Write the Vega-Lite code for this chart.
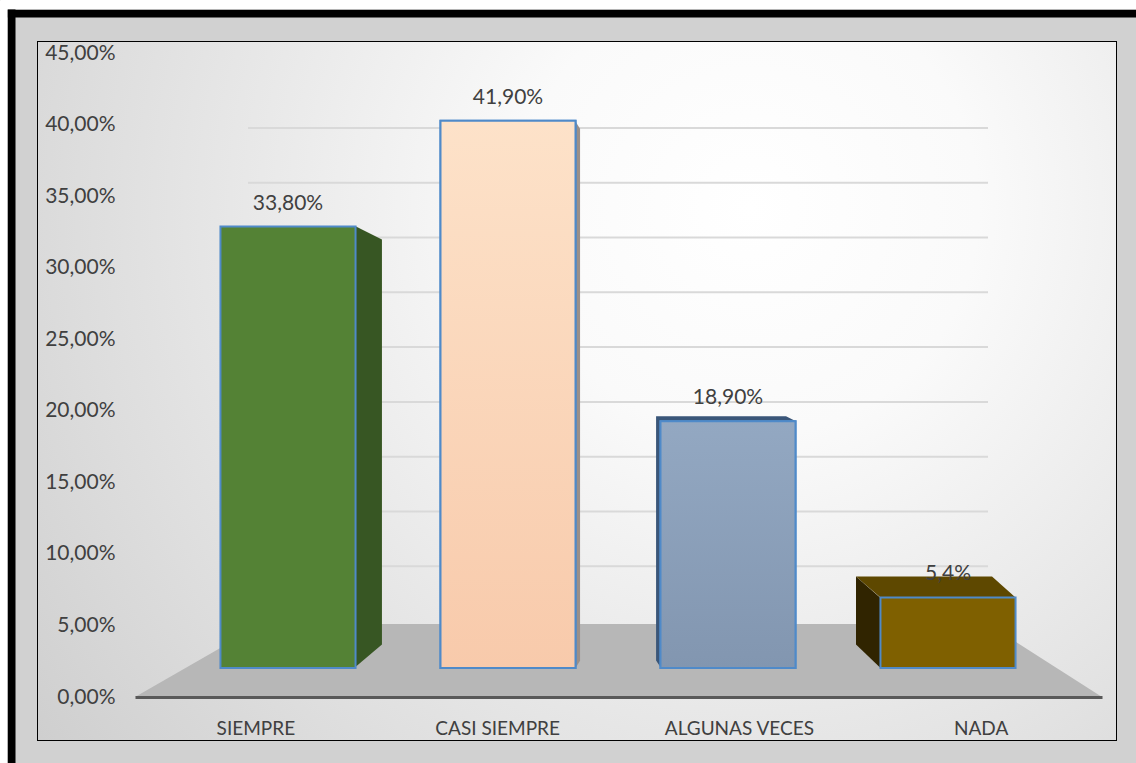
{
  "$schema": "https://vega.github.io/schema/vega-lite/v6.json",
  "width": 1078,
  "height": 698,
  "autosize": {"type": "none"},
  "padding": {"left": 38, "top": 42, "right": 20, "bottom": 23},
  "background": "#d1d1d1",
  "config": {
    "view": {"stroke": "#000000", "strokeWidth": 2},
    "font": "Lato",
    "axis": {"labelFont": "Lato", "labelColor": "#404040", "title": null}
  },
  "datasets": {
    "resp": [
      {"cat": "SIEMPRE", "v": 33.8, "label": "33,80%"},
      {"cat": "CASI SIEMPRE", "v": 41.9, "label": "41,90%"},
      {"cat": "ALGUNAS VECES", "v": 18.9, "label": "18,90%"},
      {"cat": "NADA", "v": 5.4, "label": "5,4%"}
    ],
    "ticks": [
      {"t": 0}, {"t": 5}, {"t": 10}, {"t": 15}, {"t": 20},
      {"t": 25}, {"t": 30}, {"t": 35}, {"t": 40}, {"t": 45}
    ]
  },
  "resolve": {
    "scale": {"x": "independent", "y": "independent", "color": "independent"},
    "axis": {"x": "independent", "y": "independent"}
  },
  "layer": [
    {
      "data": {"name": "resp"},
      "mark": {
        "type": "rect",
        "fill": {
          "gradient": "radial",
          "x1": 0.66, "y1": 0.33, "r1": 0,
          "x2": 0.66, "y2": 0.33, "r2": 0.85,
          "stops": [
            {"offset": 0, "color": "#ffffff"},
            {"offset": 0.25, "color": "#fafafa"},
            {"offset": 1, "color": "#cdcdcd"}
          ]
        },
        "strokeWidth": 0
      },
      "encoding": {
        "x": {"value": 0},
        "x2": {"value": "width"},
        "y": {"value": 0},
        "y2": {"value": "height"}
      }
    },
    {
      "data": {"name": "ticks"},
      "transform": [{"filter": "datum.t > 0"}],
      "mark": {"type": "rule", "color": "#d9d9d9", "strokeWidth": 2},
      "encoding": {
        "y": {"field": "t", "type": "quantitative", "scale": {"domain": [0, 45], "range": [579, 86], "zero": false, "nice": false}, "axis": null},
        "x": {"datum": 0, "type": "quantitative", "scale": {"domain": [0, 1], "range": [210, 950], "nice": false, "zero": false}, "axis": null},
        "x2": {"datum": 1}
      }
    },
    {
      "data": {"values": [{"f": 1}]},
      "mark": {
        "type": "point",
        "filled": true,
        "shape": "M -1 0.0755 L 1 0.0755 L 0.764 -0.0755 L -0.737 -0.0755 Z",
        "size": 935089,
        "color": "#b7b7b7",
        "opacity": 1,
        "strokeWidth": 0
      },
      "encoding": {
        "x": {"datum": 0.5, "type": "quantitative", "scale": {"domain": [0, 1], "range": [97, 1064], "nice": false, "zero": false}, "axis": null},
        "y": {"datum": 0.5, "type": "quantitative", "scale": {"domain": [0, 1], "range": [655, 582], "nice": false, "zero": false}, "axis": null}
      }
    },
    {
      "data": {"name": "resp"},
      "transform": [{"filter": "datum.cat == 'SIEMPRE'"}],
      "mark": {"type": "point", "filled": true, "opacity": 1, "strokeWidth": 0, "color": "#375623",
        "shape": "M 0.309 0 L 0.427 0.059 L 0.427 1.9 L 0.309 2 Z", "size": 193600},
      "encoding": {
        "x": {"field": "cat", "type": "nominal", "sort": null, "scale": {"type": "band", "domain": ["SIEMPRE", "CASI SIEMPRE", "ALGUNAS VECES", "NADA"], "range": [140, 1020], "paddingInner": 0.386, "paddingOuter": 0.193}, "axis": null},
        "y": {"field": "v", "type": "quantitative", "scale": {"domain": [0, 45], "range": [626, 38.3], "nice": false}, "axis": null}
      }
    },
    {
      "data": {"name": "resp"},
      "transform": [{"filter": "datum.cat == 'CASI SIEMPRE'"}],
      "mark": {"type": "point", "filled": true, "opacity": 1, "strokeWidth": 0, "color": "#9a8f88",
        "shape": "M 0.2445 0 L 0.263 0.029 L 0.263 1.971 L 0.2445 2 Z", "size": 300304},
      "encoding": {
        "x": {"field": "cat", "type": "nominal", "sort": null, "scale": {"type": "band", "domain": ["SIEMPRE", "CASI SIEMPRE", "ALGUNAS VECES", "NADA"], "range": [140, 1020], "paddingInner": 0.386, "paddingOuter": 0.193}, "axis": null},
        "y": {"field": "v", "type": "quantitative", "scale": {"domain": [0, 45], "range": [626, 38.3], "nice": false}, "axis": null}
      }
    },
    {
      "data": {"name": "resp"},
      "transform": [{"filter": "datum.cat == 'ALGUNAS VECES'"}],
      "mark": {"type": "point", "filled": true, "opacity": 1, "strokeWidth": 0, "color": "#3a5679",
        "shape": "M -0.58 -0.04 L 0.468 -0.04 L 0.548 0 L -0.54 0 L -0.54 1.99 L -0.58 1.93 Z", "size": 61504},
      "encoding": {
        "x": {"field": "cat", "type": "nominal", "sort": null, "scale": {"type": "band", "domain": ["SIEMPRE", "CASI SIEMPRE", "ALGUNAS VECES", "NADA"], "range": [140, 1020], "paddingInner": 0.386, "paddingOuter": 0.193}, "axis": null},
        "y": {"field": "v", "type": "quantitative", "scale": {"domain": [0, 45], "range": [626, 38.3], "nice": false}, "axis": null}
      }
    },
    {
      "data": {"name": "resp"},
      "transform": [{"filter": "datum.cat == 'NADA'"}],
      "mark": {"type": "point", "filled": true, "opacity": 1, "strokeWidth": 0, "color": "#5e4800",
        "shape": "M -1.15 -0.2625 L 0.55 -0.2625 L 0.844 0 L -0.844 0 Z", "size": 25600},
      "encoding": {
        "x": {"field": "cat", "type": "nominal", "sort": null, "scale": {"type": "band", "domain": ["SIEMPRE", "CASI SIEMPRE", "ALGUNAS VECES", "NADA"], "range": [140, 1020], "paddingInner": 0.386, "paddingOuter": 0.193}, "axis": null},
        "y": {"field": "v", "type": "quantitative", "scale": {"domain": [0, 45], "range": [626, 38.3], "nice": false}, "axis": null}
      }
    },
    {
      "data": {"name": "resp"},
      "transform": [{"filter": "datum.cat == 'NADA'"}],
      "mark": {"type": "point", "filled": true, "opacity": 1, "strokeWidth": 0, "color": "#302400",
        "shape": "M -1.15 -0.2625 L -0.85 0 L -0.85 0.875 L -1.15 0.5875 Z", "size": 25600},
      "encoding": {
        "x": {"field": "cat", "type": "nominal", "sort": null, "scale": {"type": "band", "domain": ["SIEMPRE", "CASI SIEMPRE", "ALGUNAS VECES", "NADA"], "range": [140, 1020], "paddingInner": 0.386, "paddingOuter": 0.193}, "axis": null},
        "y": {"field": "v", "type": "quantitative", "scale": {"domain": [0, 45], "range": [626, 38.3], "nice": false}, "axis": null}
      }
    },
    {
      "data": {"name": "resp"},
      "mark": {"type": "bar", "stroke": "#4f8ac9", "strokeWidth": 2, "opacity": 1},
      "encoding": {
        "x": {"field": "cat", "type": "nominal", "sort": null, "scale": {"type": "band", "range": [140, 1020], "paddingInner": 0.386, "paddingOuter": 0.193}, "axis": null},
        "y": {"field": "v", "type": "quantitative", "scale": {"domain": [0, 45], "range": [626, 38.3], "nice": false}, "axis": null},
        "color": {
          "field": "cat", "type": "nominal", "sort": null,
          "scale": {"domain": ["SIEMPRE", "CASI SIEMPRE", "ALGUNAS VECES", "NADA"], "range": ["#548235", "#f9cfb2", "#8a9fba", "#7f6000"]},
          "legend": null
        }
      }
    },
    {
      "data": {"name": "resp"},
      "transform": [{"filter": "datum.cat == 'CASI SIEMPRE'"}],
      "mark": {
        "type": "bar", "stroke": "#4f8ac9", "strokeWidth": 2, "opacity": 1,
        "fill": {"gradient": "linear", "x1": 0, "y1": 0, "x2": 0, "y2": 1,
          "stops": [{"offset": 0, "color": "#fde2c9"}, {"offset": 1, "color": "#f8caab"}]}
      },
      "encoding": {
        "x": {"field": "cat", "type": "nominal", "scale": {"type": "band", "range": [402.5, 537.5], "paddingInner": 0, "paddingOuter": 0}, "axis": null},
        "y": {"field": "v", "type": "quantitative", "scale": {"domain": [0, 45], "range": [626, 38.3], "nice": false}, "axis": null}
      }
    },
    {
      "data": {"name": "resp"},
      "transform": [{"filter": "datum.cat == 'ALGUNAS VECES'"}],
      "mark": {
        "type": "bar", "stroke": "#4f8ac9", "strokeWidth": 2, "opacity": 1,
        "fill": {"gradient": "linear", "x1": 0, "y1": 0, "x2": 0, "y2": 1,
          "stops": [{"offset": 0, "color": "#93a8c2"}, {"offset": 1, "color": "#8296b0"}]}
      },
      "encoding": {
        "x": {"field": "cat", "type": "nominal", "scale": {"type": "band", "range": [622.5, 757.5], "paddingInner": 0, "paddingOuter": 0}, "axis": null},
        "y": {"field": "v", "type": "quantitative", "scale": {"domain": [0, 45], "range": [626, 38.3], "nice": false}, "axis": null}
      }
    },
    {
      "data": {"name": "resp"},
      "mark": {"type": "text", "font": "Lato", "fontSize": 21, "color": "#404040", "baseline": "alphabetic", "dy": -17},
      "encoding": {
        "x": {"field": "cat", "type": "nominal", "sort": null, "scale": {"type": "band", "range": [140, 1020], "paddingInner": 0.386, "paddingOuter": 0.193}, "axis": null},
        "y": {"field": "v", "type": "quantitative", "scale": {"domain": [0, 45], "range": [626, 38.3], "nice": false}, "axis": null},
        "text": {"field": "label"}
      }
    },
    {
      "data": {"name": "resp"},
      "mark": {"type": "point", "opacity": 0},
      "encoding": {
        "x": {
          "field": "cat", "type": "nominal", "sort": null,
          "scale": {"type": "band", "range": [97, 1064], "paddingInner": 0, "paddingOuter": 0},
          "axis": {
            "orient": "bottom", "offset": -43, "zindex": 2, "domainColor": "#595959", "domainWidth": 3,
            "ticks": false, "tickSize": 0, "labelPadding": 22, "labelFontSize": 19,
            "labelAngle": 0, "grid": false, "title": null
          }
        }
      }
    },
    {
      "data": {"name": "ticks"},
      "mark": {"type": "point", "opacity": 0},
      "encoding": {
        "y": {
          "field": "t", "type": "quantitative",
          "scale": {"domain": [0, 45], "range": [655, 11], "nice": false, "zero": false},
          "axis": {
            "orient": "left", "offset": -77, "zindex": 2, "values": [0, 5, 10, 15, 20, 25, 30, 35, 40, 45],
            "labelExpr": "replace(format(datum.value, '.2f'), '.', ',') + '%'",
            "domain": false, "ticks": false, "tickSize": 0, "grid": false,
            "labelPadding": 0, "labelFontSize": 21, "labelAlign": "right", "labelBaseline": "middle", "title": null
          }
        }
      }
    },
    {
      "data": {"values": [{"f": 1}]},
      "mark": {"type": "point", "opacity": 0},
      "encoding": {
        "x": {
          "datum": 0, "type": "quantitative",
          "scale": {"domain": [0, 1], "range": [-31, 1098], "nice": false, "zero": false},
          "axis": {"orient": "top", "offset": 29, "domainColor": "#000000", "domainWidth": 8, "labels": false, "ticks": false, "grid": false, "title": null}
        },
        "y": {
          "datum": 0, "type": "quantitative",
          "scale": {"domain": [0, 1], "range": [721, -33], "nice": false, "zero": false},
          "axis": {"orient": "left", "offset": 27, "domainColor": "#000000", "domainWidth": 8, "labels": false, "ticks": false, "grid": false, "title": null}
        }
      }
    },
    {
      "data": {"values": [{"f": 1}]},
      "mark": {"type": "point", "opacity": 0},
      "encoding": {
        "x": {
          "datum": 0, "type": "quantitative",
          "scale": {"domain": [0, 1], "range": [-38, 1098], "nice": false, "zero": false},
          "axis": {"orient": "top", "offset": 42, "domainColor": "#ffffff", "domainWidth": 18, "labels": false, "ticks": false, "grid": false, "title": null}
        },
        "y": {
          "datum": 0, "type": "quantitative",
          "scale": {"domain": [0, 1], "range": [721, -42], "nice": false, "zero": false},
          "axis": {"orient": "left", "offset": 38, "domainColor": "#ffffff", "domainWidth": 14, "labels": false, "ticks": false, "grid": false, "title": null}
        }
      }
    }
  ]
}
